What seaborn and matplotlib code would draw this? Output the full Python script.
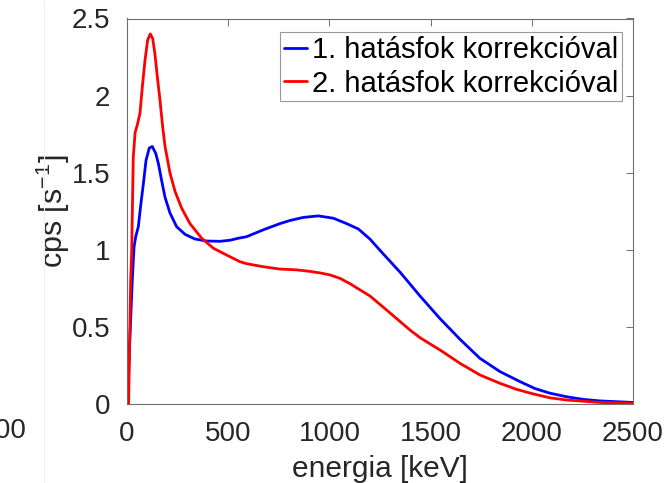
import matplotlib
matplotlib.use("Agg")
import matplotlib.pyplot as plt
import seaborn as sns
import pandas as pd

# Spectrum with the first efficiency correction
energy_1 = [0, 3, 12, 26, 35, 43, 56, 67, 81, 94, 110, 125, 142, 155, 171, 188, 212,
            245, 287, 336, 394, 460, 509, 550, 591, 674, 756, 805, 871, 945, 1019,
            1085, 1143, 1200, 1258, 1349, 1448, 1547, 1645, 1744, 1843, 1942,
            2016, 2090, 2172, 2255, 2337, 2500]
cps_1 = [0.0, 0.0, 0.35, 0.80, 1.02, 1.085, 1.15, 1.28, 1.43, 1.58, 1.66, 1.67,
         1.625, 1.56, 1.45, 1.34, 1.24, 1.15, 1.10, 1.07, 1.057, 1.055, 1.062,
         1.075, 1.085, 1.13, 1.17, 1.19, 1.21, 1.22, 1.205, 1.17, 1.135, 1.07,
         0.985, 0.855, 0.70, 0.553, 0.42, 0.296, 0.21, 0.145, 0.10, 0.07, 0.047,
         0.03, 0.02, 0.01]

# Spectrum with the second efficiency correction
energy_2 = [0, 8, 18, 23, 31, 40, 51, 64, 76, 89, 102, 115, 127, 138, 150, 163, 176,
            188, 212, 237, 270, 311, 369, 427, 492, 558, 591, 674, 756, 838, 904,
            954, 1003, 1052, 1102, 1201, 1300, 1398, 1448, 1497, 1547, 1645, 1744,
            1843, 1925, 2008, 2090, 2172, 2255, 2337, 2500]
cps_2 = [0.0, 0.0, 0.80, 0.98, 1.60, 1.76, 1.81, 1.885, 2.06, 2.23, 2.36, 2.40,
         2.37, 2.27, 2.12, 1.97, 1.80, 1.67, 1.50, 1.38, 1.27, 1.17, 1.075, 1.01,
         0.966, 0.923, 0.91, 0.89, 0.875, 0.87, 0.86, 0.85, 0.837, 0.815, 0.78,
         0.70, 0.59, 0.48, 0.43, 0.39, 0.35, 0.264, 0.188, 0.134, 0.095, 0.065,
         0.04, 0.026, 0.018, 0.01, 0.005]

labels = ["1. hatásfok korrekcióval", "2. hatásfok korrekcióval"]
x_ticks = [0, 500, 1000, 1500, 2000, 2500]
y_ticks = [0, 0.5, 1, 1.5, 2, 2.5]
y_tick_labels = ["0", "0.5", "1", "1.5", "2", "2.5"]

sns.set_theme(style="white")
plt.rcParams["font.family"] = ["Liberation Sans", "DejaVu Sans"]
plt.rcParams["mathtext.fontset"] = "custom"
plt.rcParams["mathtext.rm"] = "Liberation Sans"
plt.rcParams["mathtext.it"] = "Liberation Sans"

df = pd.concat([
    pd.DataFrame({"energia": energy_1, "cps": cps_1, "series": labels[0]}),
    pd.DataFrame({"energia": energy_2, "cps": cps_2, "series": labels[1]}),
])

fig = plt.figure(figsize=(6.67, 4.83), dpi=100)
ax = fig.add_axes([127 / 667, 1 - 404 / 483, 506 / 667, 385.5 / 483])

sns.lineplot(data=df, x="energia", y="cps", hue="series", sort=False,
             palette=["#0000ff", "#ff0000"], linewidth=2.0, ax=ax, legend=True)

ax.set_xlim(0, 2500)
ax.set_ylim(0, 2.5)
ax.set_xticks(x_ticks)
ax.set_yticks(y_ticks)
ax.set_yticklabels(y_tick_labels)

edge = "#6e6e6e"
for s in ax.spines.values():
    s.set_visible(True)
    s.set_color(edge)
    s.set_linewidth(0.8)
ax.tick_params(direction="in", length=5, width=0.7, color=edge,
               top=True, right=True, labelsize=20, labelcolor="#262626",
               pad=12)

ax.set_xlabel("energia [keV]", fontsize=21.5, color="#262626", labelpad=6)
ax.set_ylabel("cps [s$^{-1}$]", fontsize=22, color="#262626", labelpad=0)

leg = ax.legend(loc="upper right", bbox_to_anchor=(621.7 / 667, 1 - 32.3 / 483),
                bbox_transform=fig.transFigure, borderaxespad=0,
                fontsize=21, frameon=True, fancybox=False, framealpha=1,
                edgecolor="#999999", handlelength=0.82, handletextpad=0.15,
                labelspacing=0.2, borderpad=0.12)
leg.get_frame().set_linewidth(0.8)
for line in leg.get_lines():
    line.set_linewidth(2.0)
for t in leg.get_texts():
    t.set_color("#000000")

# Tick label of a neighbouring panel, partly outside the figure edge
fig.text(27 / 667, 1 - 431 / 483, "2500", ha="right", va="center",
         fontsize=20, color="#262626")
fig.add_artist(plt.Line2D([44 / 667, 44 / 667], [0, 1], transform=fig.transFigure,
                          color="#f0f0f0", linewidth=0.8))

fig.savefig("out.png", dpi=100)
